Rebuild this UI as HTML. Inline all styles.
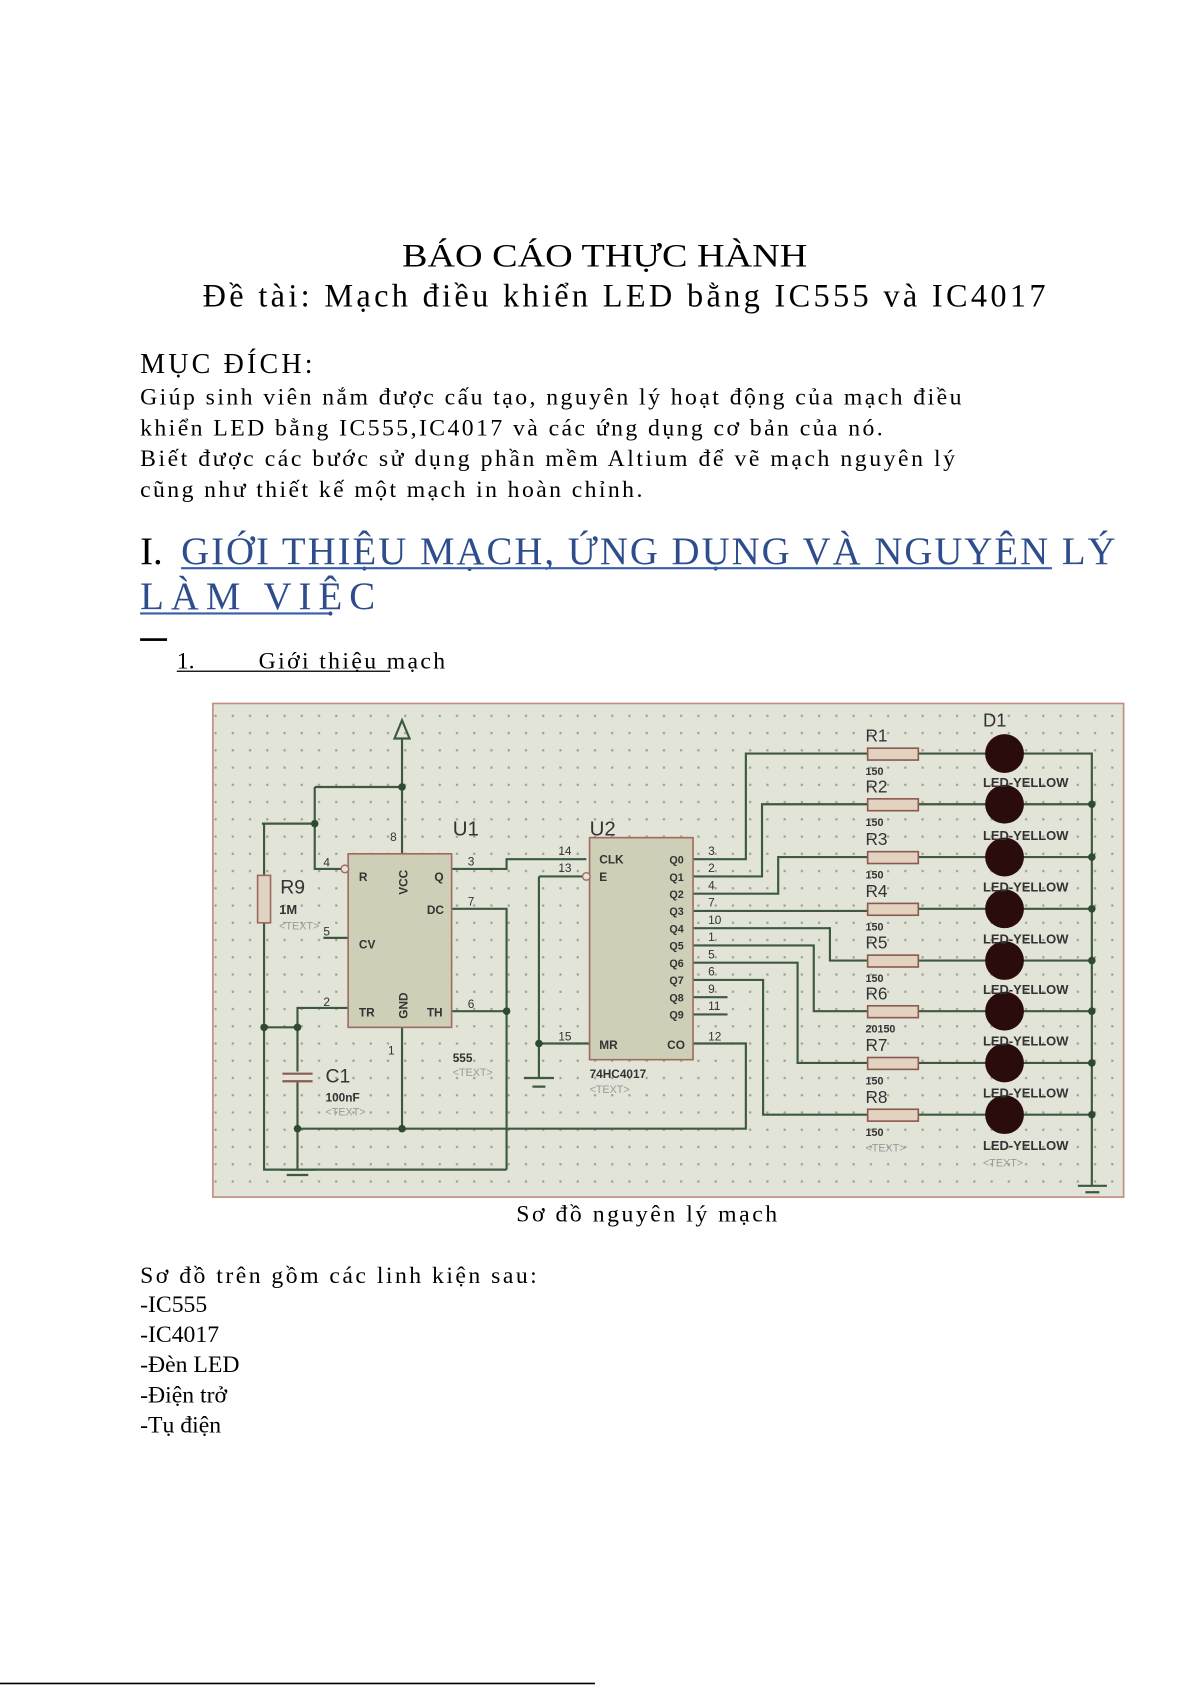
<!DOCTYPE html>
<html><head><meta charset="utf-8"><style>
html,body{margin:0;padding:0;background:#fff;}
svg{display:block;}
.s{font-family:"Liberation Serif","DejaVu Serif",serif;}
.a{font-family:"Liberation Sans","DejaVu Sans",sans-serif;}
</style></head><body>
<svg width="1191" height="1685" viewBox="0 0 1105 1563" xmlns="http://www.w3.org/2000/svg">
<defs>
<pattern id="dots" x="0" y="0" width="16" height="16" patternUnits="userSpaceOnUse">
<rect x="7" y="7" width="2" height="2" fill="#9a9e92"/>
</pattern>
</defs>
<g class="s" fill="#000">
<text x="561" y="247" font-size="30" text-anchor="middle" textLength="376" lengthAdjust="spacingAndGlyphs">BÁO  CÁO  THỰC  HÀNH</text>
<text x="188" y="284" font-size="30" textLength="782" lengthAdjust="spacing">Đề  tài:  Mạch  điều  khiển  LED  bằng  IC555  và  IC4017</text>
<text x="130" y="346" font-size="26" textLength="160" lengthAdjust="spacing">MỤC  ĐÍCH:</text>
<text x="130" y="375" font-size="22" textLength="762" lengthAdjust="spacing">Giúp  sinh  viên  nắm  được  cấu  tạo,  nguyên  lý  hoạt  động  của  mạch  điều</text>
<text x="130" y="404" font-size="22" textLength="689" lengthAdjust="spacing">khiển  LED  bằng  IC555,IC4017  và  các  ứng  dụng  cơ  bản  của  nó.</text>
<text x="130" y="432" font-size="22" textLength="756" lengthAdjust="spacing">Biết  được  các  bước  sử  dụng  phần  mềm  Altium  để  vẽ  mạch  nguyên  lý</text>
<text x="130" y="461" font-size="22" textLength="466" lengthAdjust="spacing">cũng  như  thiết  kế  một  mạch  in  hoàn  chỉnh.</text>
<text x="130" y="523" font-size="36">I.</text>
<text x="168" y="523" font-size="36" fill="#2e4d8c" textLength="867" lengthAdjust="spacing">GIỚI  THIỆU  MẠCH,  ỨNG  DỤNG  VÀ  NGUYÊN  LÝ</text>
<rect x="168" y="526" width="808" height="2" fill="#3a5fa8"/>
<text x="130" y="565" font-size="36" fill="#2e4d8c" textLength="218" lengthAdjust="spacing">LÀM      VIỆC</text>
<rect x="130" y="568" width="175" height="2" fill="#3a5fa8"/>
<rect x="130" y="592" width="25" height="2.5" fill="#000"/>
<text x="164" y="620" font-size="22">1.</text>
<text x="240" y="620" font-size="22" textLength="173" lengthAdjust="spacing">Giới  thiệu  mạch</text>
<rect x="164" y="622" width="198" height="1.2" fill="#000"/>
<text x="600" y="1133" font-size="22" text-anchor="middle" textLength="242" lengthAdjust="spacing">Sơ  đồ  nguyên  lý  mạch</text>
<text x="130" y="1190" font-size="22" textLength="368" lengthAdjust="spacing">Sơ  đồ  trên  gồm  các  linh  kiện  sau:</text>
<text x="130" y="1217" font-size="22">-IC555</text>
<text x="130" y="1245" font-size="22">-IC4017</text>
<text x="130" y="1273" font-size="22">-Đèn  LED</text>
<text x="130" y="1301" font-size="22">-Điện  trở</text>
<text x="130" y="1329" font-size="22">-Tụ  điện</text>
<rect x="0" y="1561" width="552" height="1.5" fill="#000"/>
</g>

<!-- schematic -->
<rect x="197" y="652" width="846" height="459" fill="#e2e4d8"/>
<rect x="197" y="652" width="846" height="459" fill="url(#dots)"/>
<rect x="197.5" y="652.5" width="845" height="458" fill="none" stroke="#c48a84" stroke-width="1.5"/>

<g stroke="#3d5a40" stroke-width="2" fill="none">
<!-- VCC -->
<path d="M373 685 V792"/>
<path d="M292 730 H373"/>
<path d="M292 730 V806 H316"/>
<path d="M243 764 H292"/>
<path d="M245 764 V812"/>
<path d="M245 856 V1085 H470"/>
<!-- pin 3 Q -->
<path d="M419 806 H470 V797 H544"/>
<!-- DC -->
<path d="M419 843 H470 V1085"/>
<path d="M419 938 H470"/>
<!-- CV -->
<path d="M300 870 H323"/>
<!-- TR -->
<path d="M323 935 H276 V1085"/>
<path d="M245 953 H276"/>
<!-- GND U1 -->
<path d="M373 953 V1047"/>
<path d="M276 1047 H692 V968 H643"/>
<path d="M260 1085 H292 M266 1090 H286"/>
<!-- U2 left -->
<path d="M500 813 H540"/>
<path d="M500 813 V1000"/>
<path d="M500 968 H547"/>
<path d="M486 1000 H514 M494 1008 H506"/>
<!-- Q outputs -->
<path d="M643 797 H692 V699 H805"/>
<path d="M643 813 H707 V746 H805"/>
<path d="M643 829 H722 V795 H805"/>
<path d="M643 845 H805"/>
<path d="M643 861 H770 V891 H805"/>
<path d="M643 877 H755 V938 H805"/>
<path d="M643 893 H740 V986 H805"/>
<path d="M643 909 H708 V1034 H805"/>
<path d="M643 925 H675 M643 941 H675"/>
<!-- resistor to LED to bus -->
<path d="M852 699 H1013 V1100"/>
<path d="M852 746 H1013 M852 795 H1013 M852 843 H1013 M852 891 H1013 M852 938 H1013 M852 986 H1013 M852 1034 H1013"/>
<path d="M1000 1100 H1027 M1007 1106 H1020"/>
</g>
<!-- C1 -->
<rect x="262" y="994" width="28" height="10" fill="#e2e4d8"/>
<path d="M262 996 H290 M262 1003 H290" stroke="#8a5a50" stroke-width="2"/>
<!-- VCC arrow -->
<path d="M366 685 L373 668 L380 685 Z" fill="none" stroke="#3d5a40" stroke-width="2"/>
<!-- junctions -->
<g fill="#2e4a30">
<circle cx="373" cy="730" r="3.5"/><circle cx="292" cy="764" r="3.5"/><circle cx="470" cy="938" r="3.5"/>
<circle cx="245" cy="953" r="3.5"/><circle cx="276" cy="953" r="3.5"/><circle cx="276" cy="1047" r="3.5"/>
<circle cx="373" cy="1047" r="3.5"/><circle cx="500" cy="968" r="3.5"/>
<circle cx="1013" cy="746" r="3.5"/><circle cx="1013" cy="795" r="3.5"/><circle cx="1013" cy="843" r="3.5"/>
<circle cx="1013" cy="891" r="3.5"/><circle cx="1013" cy="938" r="3.5"/><circle cx="1013" cy="986" r="3.5"/><circle cx="1013" cy="1034" r="3.5"/>
</g>
<!-- R9 -->
<rect x="239" y="812" width="12" height="44" fill="#e0d4c0" stroke="#9a6a60" stroke-width="1.5"/>
<!-- U1 / U2 -->
<rect x="323" y="792" width="96" height="161" fill="#cfcfb8" stroke="#a06a60" stroke-width="1.5"/>
<rect x="547" y="777" width="96" height="206" fill="#cfcfb8" stroke="#a06a60" stroke-width="1.5"/>
<circle cx="320" cy="806" r="3.5" fill="#e2e4d8" stroke="#a06a60" stroke-width="1.3"/>
<circle cx="544" cy="813" r="3.5" fill="#e2e4d8" stroke="#a06a60" stroke-width="1.3"/>
<!-- resistors -->
<g fill="#e4d2c0" stroke="#8a5a50" stroke-width="1.5">
<rect x="805" y="694" width="47" height="11"/><rect x="805" y="741" width="47" height="11"/>
<rect x="805" y="790" width="47" height="11"/><rect x="805" y="838" width="47" height="11"/>
<rect x="805" y="886" width="47" height="11"/><rect x="805" y="933" width="47" height="11"/>
<rect x="805" y="981" width="47" height="11"/><rect x="805" y="1029" width="47" height="11"/>
</g>
<!-- LEDs -->
<g fill="#2a0c0c">
<circle cx="932" cy="699" r="18"/><circle cx="932" cy="746" r="18"/><circle cx="932" cy="795" r="18"/>
<circle cx="932" cy="843" r="18"/><circle cx="932" cy="891" r="18"/><circle cx="932" cy="938" r="18"/>
<circle cx="932" cy="986" r="18"/><circle cx="932" cy="1034" r="18"/>
</g>
<!-- labels -->
<g class="a" fill="#333">
<text x="420" y="775" font-size="19">U1</text>
<text x="547" y="775" font-size="19">U2</text>
<text x="260" y="829" font-size="18">R9</text>
<text x="259" y="848" font-size="12" font-weight="bold">1M</text>
<text x="259" y="862" font-size="10" fill="#999">&lt;TEXT&gt;</text>
<text x="302" y="1004" font-size="18">C1</text>
<text x="302" y="1022" font-size="11" font-weight="bold">100nF</text>
<text x="302" y="1035" font-size="10" fill="#999">&lt;TEXT&gt;</text>
<text x="420" y="985" font-size="11" font-weight="bold">555</text>
<text x="420" y="998" font-size="10" fill="#999">&lt;TEXT&gt;</text>
<text x="547" y="1000" font-size="11" font-weight="bold">74HC4017</text>
<text x="547" y="1014" font-size="10" fill="#999">&lt;TEXT&gt;</text>
<g font-size="11" font-weight="bold">
<text x="333" y="817">R</text><text x="403" y="817">Q</text><text x="396" y="848">DC</text>
<text x="333" y="880">CV</text><text x="333" y="943">TR</text><text x="396" y="943">TH</text>
<text x="378" y="830" transform="rotate(-90 378 830)">VCC</text>
<text x="378" y="945" transform="rotate(-90 378 945)">GND</text>
<text x="556" y="801">CLK</text><text x="556" y="817">E</text>
<text x="556" y="973">MR</text><text x="619" y="973">CO</text>
<text x="621" y="801" font-size="10">Q0</text><text x="621" y="817" font-size="10">Q1</text>
<text x="621" y="833" font-size="10">Q2</text><text x="621" y="849" font-size="10">Q3</text>
<text x="621" y="865" font-size="10">Q4</text><text x="621" y="881" font-size="10">Q5</text>
<text x="621" y="897" font-size="10">Q6</text><text x="621" y="913" font-size="10">Q7</text>
<text x="621" y="929" font-size="10">Q8</text><text x="621" y="945" font-size="10">Q9</text>
</g>
<g font-size="11">
<text x="300" y="804">4</text><text x="434" y="803">3</text><text x="434" y="840">7</text>
<text x="300" y="868">5</text><text x="300" y="933">2</text><text x="434" y="935">6</text>
<text x="518" y="793">14</text><text x="518" y="809">13</text><text x="518" y="965">15</text>
<text x="657" y="793">3</text><text x="657" y="809">2</text><text x="657" y="825">4</text>
<text x="657" y="841">7</text><text x="657" y="857">10</text><text x="657" y="873">1</text>
<text x="657" y="889">5</text><text x="657" y="905">6</text><text x="657" y="921">9</text>
<text x="657" y="937">11</text><text x="657" y="965">12</text>
<text x="360" y="978">1</text><text x="362" y="780">8</text>
</g>
<text x="912" y="674" font-size="17">D1</text>
<g font-size="16">
<text x="803" y="688">R1</text><text x="803" y="735">R2</text><text x="803" y="784">R3</text>
<text x="803" y="832">R4</text><text x="803" y="880">R5</text><text x="803" y="927">R6</text>
<text x="803" y="975">R7</text><text x="803" y="1023">R8</text>
</g>
<g font-size="10" font-weight="bold">
<text x="803" y="719">150</text><text x="803" y="766">150</text><text x="803" y="815">150</text>
<text x="803" y="863">150</text><text x="803" y="911">150</text><text x="803" y="958">20150</text>
<text x="803" y="1006">150</text><text x="803" y="1054">150</text>
</g>
<g font-size="12" font-weight="bold">
<text x="912" y="730">LED-YELLOW</text><text x="912" y="779">LED-YELLOW</text>
<text x="912" y="827">LED-YELLOW</text><text x="912" y="875">LED-YELLOW</text>
<text x="912" y="922">LED-YELLOW</text><text x="912" y="970">LED-YELLOW</text>
<text x="912" y="1018">LED-YELLOW</text><text x="912" y="1067">LED-YELLOW</text>
</g>
<text x="803" y="1068" font-size="10" fill="#999">&lt;TEXT&gt;</text>
<text x="912" y="1082" font-size="10" fill="#999">&lt;TEXT&gt;</text>
</g>
</svg>
</body></html>
